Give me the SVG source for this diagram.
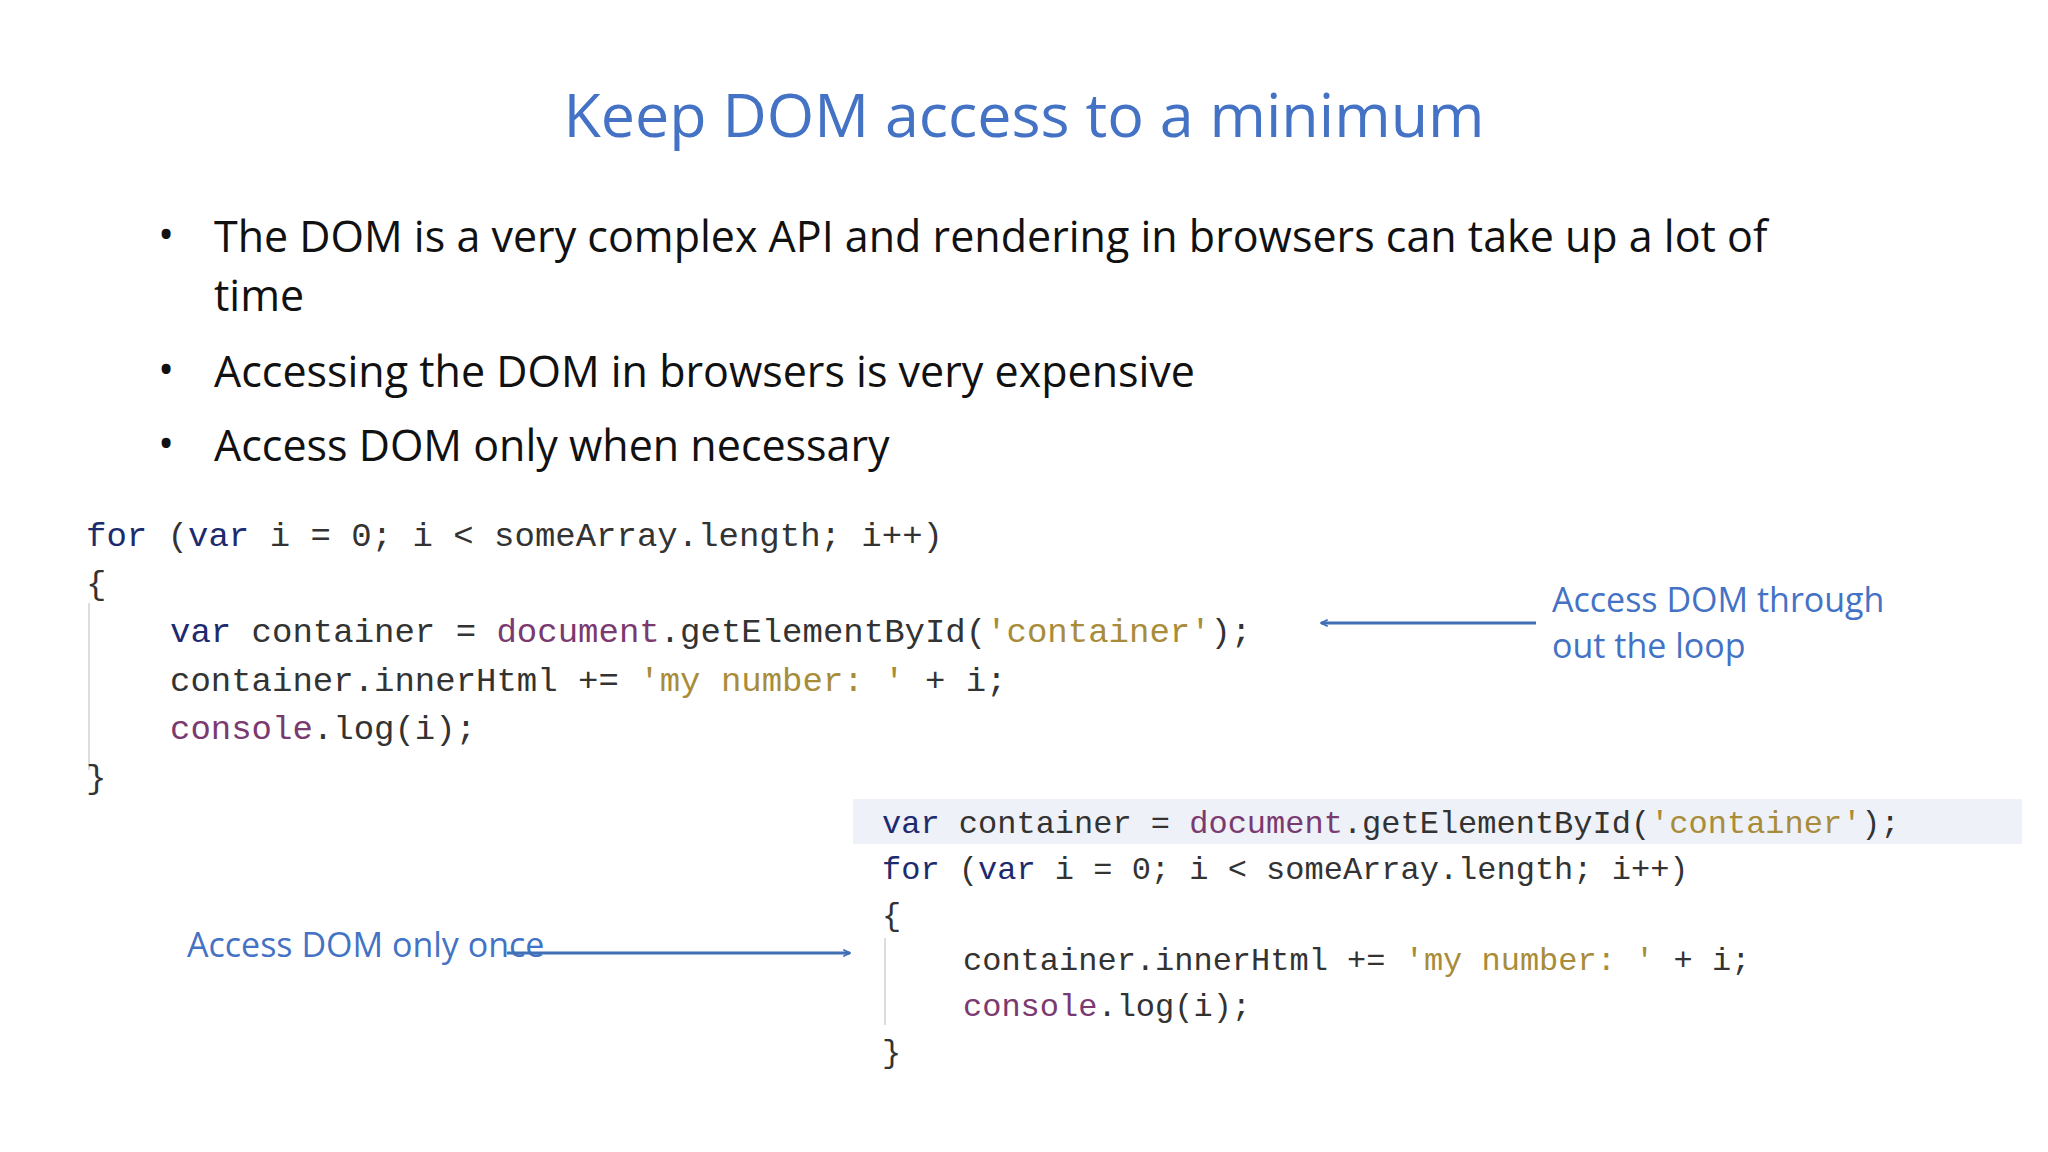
<svg xmlns="http://www.w3.org/2000/svg" width="2048" height="1152" viewBox="0 0 2048 1152">
<style>
.t{font-family:"Open Sans","Liberation Sans",sans-serif;fill:#4472C4}
.b{font-family:"Open Sans","Liberation Sans",sans-serif;font-size:43px;fill:#111}
.c{font-family:"Liberation Mono",monospace;font-size:34px;fill:#333;white-space:pre}
.c2{font-size:32px}
.k{fill:#1d2b6e}.d{fill:#7a3a70}.s{fill:#a88c3a}
.a{stroke:#3f6fb5;stroke-width:3;fill:none;marker-end:url(#ah)}
</style>
<defs><marker id="ah" viewBox="0 0 12 12" refX="11" refY="6" markerWidth="8" markerHeight="8" orient="auto" markerUnits="userSpaceOnUse"><path d="M1,1 L11,6 L1,11" fill="none" stroke="#3f6fb5" stroke-width="2.5"/></marker></defs>
<rect width="2048" height="1152" fill="#fff"/>
<text class="t" x="1024" y="137" font-size="61" text-anchor="middle">Keep DOM access to a minimum</text>
<g id="bullets">
<text class="b" x="158" y="250">•</text><text class="b" x="214" y="252">The DOM is a very complex API and rendering in browsers can take up a  lot of</text>
<text class="b" x="214" y="311">time</text>
<text class="b" x="158" y="385">•</text><text class="b" x="214" y="387">Accessing the DOM in browsers is very expensive</text>
<text class="b" x="158" y="459">•</text><text class="b" x="214" y="461">Access DOM only when necessary</text>
</g>
<g id="code1">
<line x1="89" y1="603" x2="89" y2="770" stroke="#ddd" stroke-width="2"/>
<text class="c" x="86" y="546"><tspan class="k">for</tspan> (<tspan class="k">var</tspan> i = 0; i &lt; someArray.length; i++)</text>
<text class="c" x="86" y="594">{</text>
<text class="c" x="170" y="642"><tspan class="k">var</tspan> container = <tspan class="d">document</tspan>.getElementById(<tspan class="s">'container'</tspan>);</text>
<text class="c" x="170" y="691">container.innerHtml += <tspan class="s">'my number: '</tspan> + i;</text>
<text class="c" x="170" y="739"><tspan class="d">console</tspan>.log(i);</text>
<text class="c" x="86" y="788">}</text>
</g>
<g id="code2">
<rect x="853" y="799" width="1169" height="45" fill="#eef1f8"/>
<line x1="885" y1="938" x2="885" y2="1025" stroke="#ddd" stroke-width="2"/>
<text class="c c2" x="882" y="833"><tspan class="k">var</tspan> container = <tspan class="d">document</tspan>.getElementById(<tspan class="s">'container'</tspan>);</text>
<text class="c c2" x="882" y="879"><tspan class="k">for</tspan> (<tspan class="k">var</tspan> i = 0; i &lt; someArray.length; i++)</text>
<text class="c c2" x="882" y="925">{</text>
<text class="c c2" x="963" y="970">container.innerHtml += <tspan class="s">'my number: '</tspan> + i;</text>
<text class="c c2" x="963" y="1016"><tspan class="d">console</tspan>.log(i);</text>
<text class="c c2" x="882" y="1062">}</text>
</g>
<g id="label1"><text class="t" x="1552" y="612" font-size="34">Access DOM through</text><text class="t" x="1552" y="658" font-size="34">out the loop</text></g>
<g id="label2"><text class="t" x="187" y="957" font-size="34">Access DOM only once</text></g>
<g id="connectors">
<line class="a" x1="1536" y1="623" x2="1321" y2="623"/>
<line class="a" x1="507" y1="953" x2="850" y2="953"/>
</g>
</svg>
